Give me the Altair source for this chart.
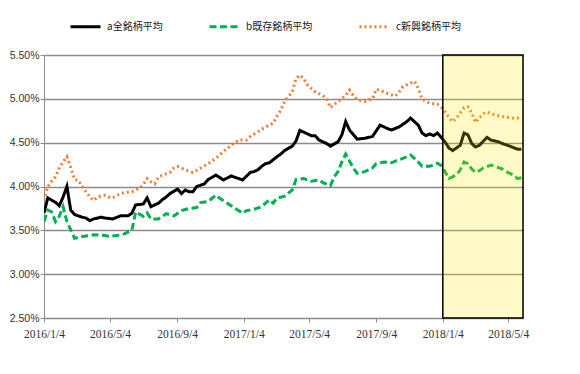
import altair as alt
import pandas as pd

series_names = ["a全銘柄平均", "b既存銘柄平均", "c新興銘柄平均"]
series_colors = ["#000000", "#00B050", "#ED7D31"]

# week index counted from 2016/1/4
weeks_a = [0,1,3,4,5,6,7,8,10,11,12,13,15,16,18,20,22,23,24,26,27,28,30,31,32,33,35,36,37,38,39,40,42,43,45,47,49,50,52,54,55,56,57,58,59,61,62,63,65,66,67,68,69,70,71,72,74,75,77,78,79,80,82,84,86,88,90,91,93,95,96,98,99,100,101,102,103,104,105,106,107,109,110,111,112,113,114,116,117,119,120,122,124,125]
vals_a = [3.70,3.87,3.82,3.78,3.88,4.00,3.73,3.68,3.65,3.64,3.61,3.63,3.65,3.64,3.63,3.665,3.665,3.695,3.79,3.80,3.87,3.77,3.81,3.85,3.88,3.92,3.97,3.92,3.96,3.94,3.94,4.00,4.03,4.08,4.13,4.075,4.12,4.105,4.075,4.16,4.17,4.19,4.23,4.26,4.27,4.34,4.37,4.41,4.46,4.52,4.64,4.62,4.60,4.58,4.58,4.53,4.49,4.46,4.51,4.59,4.74,4.645,4.54,4.55,4.57,4.70,4.66,4.645,4.68,4.74,4.78,4.70,4.61,4.58,4.60,4.58,4.61,4.56,4.51,4.44,4.41,4.47,4.61,4.59,4.49,4.45,4.47,4.56,4.53,4.51,4.49,4.46,4.425,4.425]

weeks_b = [0,1,2,3,4,5,6,8,10,12,13,16,17,19,21,23,24,26,27,28,30,31,32,34,36,38,40,41,43,45,46,48,49,52,53,55,57,59,60,61,63,65,66,68,70,72,73,75,76,77,78,79,81,82,84,86,87,89,91,92,94,96,98,99,101,103,104,105,106,108,109,110,111,112,113,114,115,117,118,120,121,123,124,125]
vals_b = [3.60,3.73,3.71,3.60,3.66,3.77,3.60,3.41,3.43,3.44,3.45,3.44,3.43,3.44,3.46,3.50,3.71,3.66,3.70,3.63,3.63,3.66,3.69,3.665,3.725,3.75,3.76,3.816,3.83,3.90,3.866,3.81,3.78,3.695,3.725,3.74,3.77,3.847,3.81,3.866,3.89,3.96,4.08,4.09,4.06,4.075,4.045,4.01,4.11,4.17,4.28,4.37,4.21,4.15,4.17,4.21,4.26,4.28,4.27,4.29,4.32,4.36,4.28,4.23,4.23,4.265,4.24,4.17,4.09,4.13,4.19,4.28,4.26,4.20,4.16,4.18,4.21,4.245,4.23,4.20,4.17,4.13,4.09,4.10]

weeks_c = [0,1,2,3,4,5,6,7,8,9,10,11,12,13,14,16,17,18,20,21,23,25,26,27,28,29,30,31,33,34,35,37,39,41,43,45,47,49,51,53,54,56,58,60,61,62,63,65,66,67,68,69,70,71,73,74,75,77,79,80,81,82,84,85,86,87,89,90,92,93,94,96,97,98,99,100,101,103,104,105,106,107,108,109,110,111,112,113,114,115,116,117,118,120,121,123,125]
vals_c = [3.84,4.00,4.06,4.11,4.21,4.28,4.34,4.22,4.08,4.07,4.00,3.94,3.88,3.84,3.88,3.90,3.88,3.87,3.92,3.93,3.94,3.98,4.02,4.09,4.055,4.03,4.11,4.13,4.16,4.21,4.23,4.19,4.16,4.21,4.26,4.32,4.40,4.47,4.53,4.53,4.57,4.625,4.68,4.72,4.80,4.87,4.97,5.08,5.23,5.27,5.23,5.16,5.12,5.08,5.04,5.00,4.90,4.97,5.04,5.10,5.04,4.99,4.97,4.99,5.00,5.11,5.08,5.06,5.03,5.08,5.14,5.18,5.20,5.12,5.00,4.97,4.95,4.94,4.91,4.85,4.79,4.74,4.78,4.84,4.90,4.91,4.84,4.73,4.78,4.83,4.85,4.83,4.82,4.80,4.79,4.78,4.78]

x_ticks = ["2016-01-04", "2016-05-04", "2016-09-04", "2017-01-04", "2017-05-04", "2017-09-04", "2018-01-04", "2018-05-04"]
y_ticks = [2.5, 3.0, 3.5, 4.0, 4.5, 5.0, 5.5]
x_domain = ["2016-01-04", "2018-05-31"]
box_range = ["2018-01-04", "2018-05-31"]

start = pd.Timestamp("2016-01-04")
rows = []
for name, wk, vals in zip(series_names, [weeks_a, weeks_b, weeks_c], [vals_a, vals_b, vals_c]):
    assert len(wk) == len(vals), name
    for w, v in zip(wk, vals):
        d = start + pd.Timedelta(days=7 * w)
        rows.append({"date": d.strftime("%Y-%m-%d"), "value": v, "series": name})
df = pd.DataFrame(rows)
box_df = pd.DataFrame({"start": [box_range[0]], "end": [box_range[1]]})

def dt(s):
    y, m, d = map(int, s.split("-"))
    return alt.DateTime(year=y, month=m, date=d, utc=True)

x_scale = alt.Scale(type="utc", domain=[dt(x_domain[0]), dt(x_domain[1])], nice=False)

lines = alt.Chart(df).mark_line(clip=True).encode(
    x=alt.X("date:T", scale=x_scale,
            axis=alt.Axis(title=None, values=[dt(s) for s in x_ticks],
                          labelExpr="utcyear(datum.value) + '/' + (utcmonth(datum.value) + 1) + '/' + utcdate(datum.value)",
                          grid=False, labelFont="Liberation Serif",
                          labelFontSize=11.5, labelColor="#333333", tickSize=4,
                          domainColor="#8c8c8c", tickColor="#8c8c8c", labelPadding=6,
                          labelFlush=False)),
    y=alt.Y("value:Q", scale=alt.Scale(domain=[2.5, 5.5], nice=False, zero=False),
            axis=alt.Axis(title=None, values=y_ticks,
                          labelExpr="format(datum.value, '.2f') + '%'",
                          labelFont="Liberation Sans", labelFontSize=10.5, labelColor="#333333",
                          tickSize=4, labelPadding=1, gridColor="#8c8c8c", gridWidth=1.5,
                          domainColor="#8c8c8c", tickColor="#8c8c8c")),
    color=alt.Color("series:N", scale=alt.Scale(domain=series_names, range=series_colors),
                    legend=alt.Legend(title=None, orient="none", legendX=25, legendY=-45,
                                      direction="horizontal", symbolType="stroke",
                                      symbolSize=900, labelFont="Noto Sans CJK JP",
                                      labelFontSize=10, labelColor="#222222",
                                      labelOffset=5, columnPadding=40)),
    strokeDash=alt.StrokeDash("series:N", scale=alt.Scale(domain=series_names,
                              range=[[1, 0], [7, 3.5], [2, 3]])),
    strokeWidth=alt.StrokeWidth("series:N", scale=alt.Scale(domain=series_names,
                                range=[3, 3, 2.5])),
)

box = alt.Chart(box_df).mark_rect(fill="#FFE600", fillOpacity=0.22, stroke="#000000",
                                  strokeWidth=1.5).encode(
    x=alt.X("start:T", scale=x_scale),
    x2="end:T",
    y=alt.value(0),
    y2=alt.value(263),
)

chart = alt.layer(lines, box).properties(
    width=479, height=263,
    padding={"left": 36, "top": 47, "right": 49, "bottom": 50},
    autosize=alt.AutoSizeParams(type="none"),
).configure_view(stroke=None).configure(background="#ffffff")

chart.save("out.html", embed_options={"renderer": "svg", "actions": False})
